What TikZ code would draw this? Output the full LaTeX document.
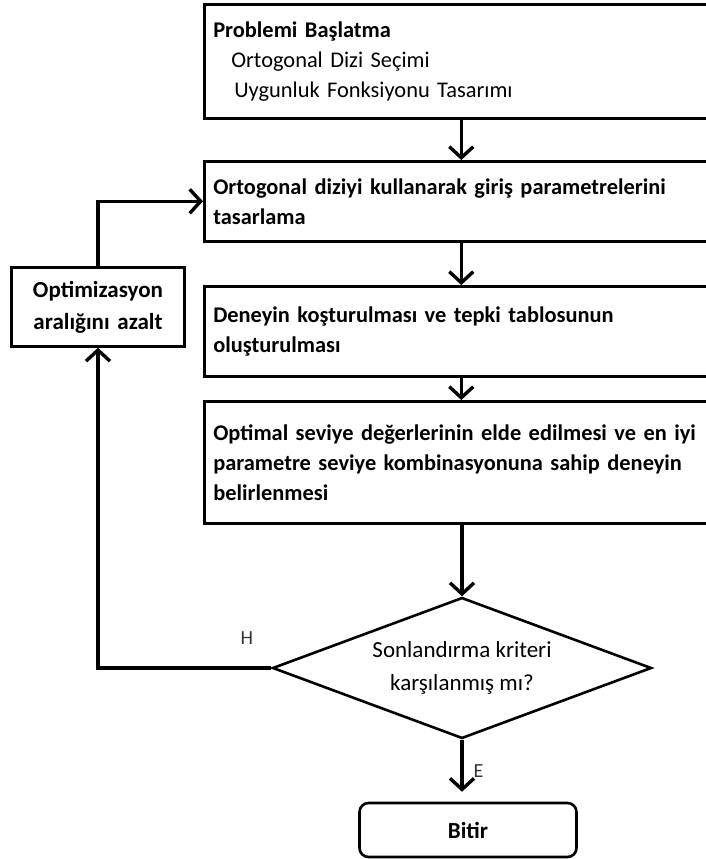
\documentclass[tikz,border=0pt]{standalone}
\usepackage{fontspec}
\setmainfont{Carlito}
\usepackage{tikz}
\usetikzlibrary{arrows.meta,positioning,shapes.geometric}

\begin{document}
\begin{tikzpicture}[
  x=1pt, y=-1pt,
  box/.style   = {draw, line width=2.6pt, fill=white, anchor=north west,
                  text width=496pt, align=left, inner sep=9pt,
                  font=\fontsize{22.4}{30}\selectfont\bfseries},
  sidebox/.style = {draw, line width=2.6pt, fill=white,
                  text width=155pt, align=center, inner sep=9pt,
                  minimum height=79pt,
                  font=\fontsize{23}{32}\selectfont\bfseries},
  decide/.style = {draw, diamond, aspect=2.69, line width=2.6pt, fill=white,
                  minimum width=379pt, minimum height=141pt, inner sep=0pt,
                  align=center, font=\fontsize{23}{33}\selectfont},
  endbox/.style = {draw, line width=2.6pt, rounded corners=9pt,
                  minimum width=217pt, minimum height=54pt,
                  font=\fontsize{23}{30}\selectfont\bfseries},
  arr/.style   = {-{Straight Barb[length=11pt,width=24pt]}, line width=3.4pt},
  labl/.style  = {font=\fontsize{20}{22}\selectfont, text=black!80, inner sep=2pt},
]

\useasboundingbox (0,0) rectangle (706,859);
\clip (0,0) rectangle (706,859);

%% ── MAIN COLUMN ─────────────────────────────────────────────────────────
\node[box, minimum height=114pt] (start) at (203,3)
  {Problemi Başlatma\\
   {\mdseries\hspace*{18pt}Ortogonal Dizi Seçimi}\\
   {\mdseries\hspace*{21pt}Uygunluk Fonksiyonu Tasarımı}};
\node[box, minimum height=80pt]  (design)  at (203,160)
  {Ortogonal diziyi kullanarak giriş parametrelerini\\tasarlama};
\node[box, minimum height=90pt]  (run)     at (203,285)
  {Deneyin koşturulması ve tepki tablosunun\\oluşturulması};
\node[box, minimum height=122pt] (optimal) at (203,400)
  {Optimal seviye değerlerinin elde edilmesi ve en iyi\\
   parametre seviye kombinasyonuna sahip deneyin\\belirlenmesi};

%% ── DECISION + END ──────────────────────────────────────────────────────
\node[decide] (check)  at (462,668) {Sonlandırma kriteri\\karşılanmış mı?};
\node[endbox] (finish) at (468,830) {Bitir};

%% ── SIDE BOX ────────────────────────────────────────────────────────────
\node[sidebox] (reduce) at (98,307) {Optimizasyon\\aralığını azalt};

%% ── MAIN FLOW ───────────────────────────────────────────────────────────
\draw[arr] (start)  -- (design);
\draw[arr] (design) -- (run);
\draw[arr] (run)    -- (optimal);
\draw[arr] (optimal.south -| check.north) -- (check.north);
\draw[arr, shorten >=10pt] (check.south) --
    node[labl,right=8pt]{E} (check.south |- finish.north);

%% ── LOOP BACK ───────────────────────────────────────────────────────────
\draw[arr] (check.west) -| node[labl,above=20pt,pos=0.07]{H} (reduce.south);
\draw[arr] (reduce.north) |- (design.west);

\end{tikzpicture}
\end{document}
